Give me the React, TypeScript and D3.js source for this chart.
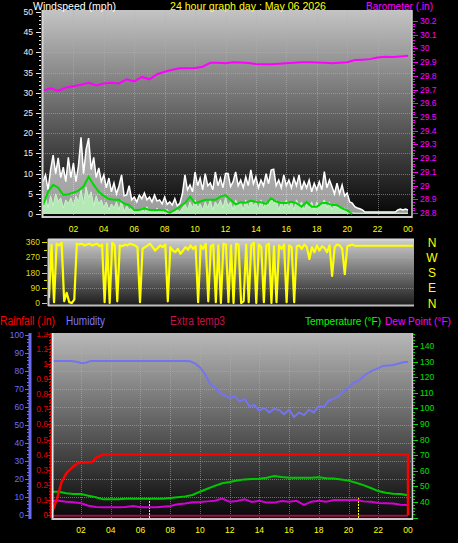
import React, { useEffect, useRef } from 'react';
import * as d3 from 'd3';

const W = 458;
const H = 543;
const FONT = "'Liberation Sans', Arial, sans-serif";

// ---------- axis ticks / labels ----------
const hourTicks = [2, 4, 6, 8, 10, 12, 14, 16, 18, 20, 22, 24];
const hourTickLabels = ['02', '04', '06', '08', '10', '12', '14', '16', '18', '20', '22', '00'];
const windTicks = [0, 5, 10, 15, 20, 25, 30, 35, 40, 45, 50];
const baroTicks = [28.8, 28.9, 29.0, 29.1, 29.2, 29.3, 29.4, 29.5, 29.6, 29.7, 29.8, 29.9, 30.0, 30.1, 30.2];
const baroTickLabels = ['28.8', '28.9', '29', '29.1', '29.2', '29.3', '29.4', '29.5', '29.6', '29.7', '29.8', '29.9', '30', '30.1', '30.2'];
const dirTicks = [0, 90, 180, 270, 360];
const dirTickLabels = ['0', '90', '180', '270', '360'];
const compassLabels = ['N', 'E', 'S', 'W', 'N'];
const humTicks = [0, 10, 20, 30, 40, 50, 60, 70, 80, 90, 100];
const rainTicks = [0, 0.1, 0.2, 0.3, 0.4, 0.5, 0.6, 0.7, 0.8, 0.9, 1.0, 1.1, 1.2];
const rainTickLabels = ['0', '0.1', '0.2', '0.3', '0.4', '0.5', '0.6', '0.7', '0.8', '0.9', '1', '1.1', '1.2'];
const tempTicks = [40, 50, 60, 70, 80, 90, 100, 110, 120, 130, 140];

// ---------- wind (10-minute samples, mph) ----------
const windGust = [
  8, 9.7, 6, 11, 14.6, 10, 13.9, 9, 11.6, 8, 14, 9,
  12.6, 8, 12, 19, 10, 16, 18.8, 11, 14, 9, 11.4, 8,
  9.7, 6.5, 8.9, 5.5, 7.7, 5, 7, 9.7, 4.5, 4.7, 7, 3.5,
  4.2, 3, 4.7, 3.8, 5.2, 3.5, 4.2, 3, 4.7, 3.2, 3.5, 2.5,
  4.2, 2.4, 3, 2.2, 3.8, 2, 2.7, 5, 9.7, 6, 7.2, 5.5,
  10.4, 7, 8.9, 6, 10, 7, 7.7, 6, 10.4, 7, 8.9, 6.5,
  10, 10, 6.8, 8, 10.4, 7, 8.4, 6.5, 9.2, 7, 10.9, 7.5,
  9.2, 6.5, 8.4, 7, 10, 7.5, 10.9, 11.1, 7, 8.4, 6.5, 9.7,
  7, 8.4, 6.5, 8.9, 7, 9.7, 6, 8, 6.5, 8.4, 5.5, 7.6,
  6, 8, 6, 10.5, 6.5, 8.4, 6.8, 5, 7.6, 5, 7.2, 4.5,
  5.2, 3, 2.7, 1.8, 1.5, 1.3, 1.0, 0.5, 0.5, 0.5, 0.5, 0.5,
  0.5, 0.5, 0.5, 0.5, 0.5, 0.5, 0.5, 0.5, 1, 1.2, 1, 1.2,
  1,
];
const windSpeed = [
  2, 4, 1.5, 4.5, 2, 5, 3, 4, 1.5, 3.5, 2.5, 4,
  2, 4.5, 3, 6, 2.5, 6.7, 4, 5.5, 2, 4.5, 2.5, 3.5,
  1.5, 3, 1, 2.5, 1.5, 3, 1, 3.5, 0.5, 2, 1, 1.5,
  0.3, 1.2, 0.5, 1.5, 0.3, 1.8, 0.5, 1.2, 0.3, 1.5, 0.5, 1,
  0.3, 1.2, 0, 0.8, 0.5, 1, 0.5, 1.5, 2.5, 1, 3, 1.5,
  3.5, 1.5, 2.5, 1, 3, 1.5, 3.5, 1, 3, 2, 3.5, 1.5,
  4, 2, 3, 1, 3.5, 2, 3, 1, 3.5, 1.5, 3.5, 2,
  3, 1, 3.5, 1.5, 3, 2, 4, 2.5, 3.5, 1, 3, 1.5,
  3.5, 1.5, 3, 1, 3.5, 2, 3, 1, 2.5, 1.5, 3, 1,
  3, 1.5, 2.5, 3.5, 1.5, 3, 1, 2.5, 1.5, 2, 1, 1.5,
  0.5, 0.5, 0.3, 0.2, 0.2, 0.2, 0.2, 0.2, 0.2, 0.2, 0.2, 0.2,
  0.2, 0.2, 0.2, 0.2, 0.2, 0.2, 0.2, 0.2, 0.2, 0.2, 0.2, 0.2,
  0.2,
];
// 20-minute samples
const windAvg = [
  2.2, 5.5, 7.2, 6.5, 4.7, 4.9, 5.3, 5.8, 6.8, 9.2,
  7.2, 5.5, 4.5, 3.7, 3.5, 3.5, 2.6, 2.2, 1.0, 1.0,
  1.4, 1.0, 1.0, 1.0, 0.9, 0.3, 1.0, 1.8, 2.7, 4.3,
  2.7, 3.1, 3.5, 3.5, 3.5, 4.3, 4.7, 3.5, 2.4, 2.9,
  2.8, 3.3, 3.0, 2.9, 2.5, 3.9, 3.1, 2.7, 2.7, 3.0,
  2.7, 1.8, 3.0, 1.8, 1.8, 2.7, 2.7, 2.2, 2.2, 1.4,
  0.9, 0.0,
];

// ---------- barometer (30-minute samples, inHg) ----------
const barometer = [
  29.692, 29.71, 29.69, 29.715, 29.725, 29.735, 29.75, 29.73, 29.745, 29.75,
  29.745, 29.775, 29.76, 29.792, 29.775, 29.812, 29.83, 29.845, 29.855, 29.855,
  29.858, 29.867, 29.895, 29.896, 29.892, 29.9, 29.898, 29.894, 29.886, 29.885,
  29.884, 29.888, 29.892, 29.895, 29.899, 29.899, 29.898, 29.896, 29.892, 29.896,
  29.9, 29.915, 29.918, 29.922, 29.934, 29.94, 29.938, 29.942, 29.947,
];

// ---------- wind direction (10-minute samples, degrees) ----------
const windDir = [
  30, 345, 5, 350, 340, 355, 10, 60, 5, 0, 20, 350,
  345, 350, 340, 345, 350, 340, 345, 350, 335, 345, 5, 350,
  0, 355, 340, 10, 340, 335, 345, 340, 350, 345, 340, 330,
  5, 320, 330, 340, 350, 330, 310, 325, 340, 330, 345, 10,
  330, 310, 300, 320, 290, 310, 330, 315, 340, 320, 335, 5,
  340, 320, 350, 10, 335, 345, 5, 340, 0, 350, 345, 5,
  340, 0, 350, 345, 0, 10, 345, 5, 340, 355, 0, 345,
  330, 5, 340, 350, 0, 335, 5, 340, 320, 345, 5, 340,
  330, 5, 335, 340, 320, 345, 330, 260, 330, 300, 340, 310,
  335, 325, 300, 340, 160, 330, 345, 340, 320, 170, 335, 340,
  345, 338, 338, 338, 338, 338, 338, 338, 338, 338, 338, 338,
  338, 338, 338, 338, 338, 338, 338, 338, 338, 338, 338, 338,
  338,
];

// ---------- humidity (20-minute samples, %) ----------
const humidity = [
  85.6, 85.6, 85.6, 85.6, 85.6, 85.2, 84.4, 84.6, 85.6, 85.6,
  85.6, 85.6, 85.6, 85.6, 85.6, 85.6, 85.6, 85.6, 85.6, 85.6,
  85.6, 85.6, 85.6, 85.6, 85.6, 85.6, 85.6, 85.6, 85.4, 84.2,
  82, 78.5, 73, 71, 68, 66.5, 65, 66, 63, 64.5,
  60.5, 61, 58, 59.5, 57, 59, 58.3, 56, 58.5, 54.5,
  57, 55.5, 58.5, 57, 60.6, 60, 63.5, 64.5, 66, 69,
  70.5, 73.5, 74.5, 77, 79, 80.5, 81.5, 82.8, 83, 83.3,
  84, 84.8, 85,
];

// ---------- temperature / dew point (30-minute samples, °F) ----------
const temperature = [
  46.6, 46.6, 45.6, 45.1, 45.1, 44, 43, 41.7, 41.7, 41.7,
  42.1, 42.1, 42.1, 42.1, 42.1, 42.1, 42.5, 43, 43.6, 44.5,
  46.6, 48.5, 50.3, 52, 52.8, 53.8, 54.5, 54.7, 54.9, 55.5,
  56.7, 56, 55.6, 55.6, 55.6, 55.6, 55.8, 55.3, 55, 54.4,
  53.7, 52.3, 50.8, 49, 47, 45.9, 45.3, 45.1, 44.3,
];
const dewPoint = [
  40.8, 40.8, 40.2, 39.8, 39.2, 37.6, 36.8, 36.6, 36.6, 36.6,
  36.8, 37.4, 36.6, 36.6, 36.6, 37, 37.4, 38.5, 39, 39.8,
  40, 40.4, 40.8, 42.2, 40.2, 40.6, 41.8, 40, 40.8, 39.6,
  39.6, 40.6, 40.2, 40.8, 38.2, 40.2, 40.8, 40.2, 41.3, 41.3,
  41.3, 41.5, 40.4, 40.2, 39.4, 39.2, 39.0, 38.2, 38,
];
const extraTemp3Hours = [0, 24];
const extraTemp3 = [31.2, 31.2];

// ---------- rainfall (inches, cumulative) ----------
const rainHours = [0, 0.05, 0.36, 0.7, 1.04, 1.46, 1.8, 2.72, 3.05, 3.48, 24, 24];
const rainfall = [0, 0.02, 0.1, 0.22, 0.28, 0.32, 0.345, 0.35, 0.38, 0.4, 0.4, 0];

// sunrise / sunset (hours)
const sunEvents = [6.57, 20.63];

type Sel = d3.Selection<SVGGElement, unknown, null, undefined>;

function label(g: Sel, x: number, y: number, s: string, color: string, size: number, anchor = 'start', len?: number) {
  const t = g.append('text')
    .attr('x', x).attr('y', y)
    .attr('fill', color)
    .attr('font-size', size)
    .attr('font-family', FONT)
    .attr('text-anchor', anchor)
    .text(s);
  if (len) t.attr('textLength', len).attr('lengthAdjust', 'spacingAndGlyphs');
  return t;
}

export default function App() {
  const ref = useRef<SVGSVGElement>(null);

  useEffect(() => {
    const svg = d3.select(ref.current as SVGSVGElement);
    svg.selectAll('*').remove();
    const defs = svg.append('defs');
    const mkGrad = (id: string, y1: number, y2: number, c1: string, c2: string) => {
      const g = defs.append('linearGradient').attr('id', id)
        .attr('gradientUnits', 'userSpaceOnUse')
        .attr('x1', 0).attr('x2', 0).attr('y1', y1).attr('y2', y2);
      g.append('stop').attr('offset', 0).attr('stop-color', c1);
      g.append('stop').attr('offset', 1).attr('stop-color', c2);
    };
    mkGrad('gTop', 10, 217, '#c4c4c4', '#040404');
    mkGrad('gMid', 239, 306, '#cfcfcf', '#1a1a1a');
    mkGrad('gBot', 333, 519, '#b8b8b8', '#060606');
    defs.append('clipPath').attr('id', 'rainClip')
      .append('rect').attr('x', 0).attr('y', 332).attr('width', 52).attr('height', 200);
    defs.append('clipPath').attr('id', 'topClip')
      .append('rect').attr('x', 43).attr('y', 10).attr('width', 369).attr('height', 207);
    defs.append('clipPath').attr('id', 'midClip')
      .append('rect').attr('x', 48).attr('y', 239).attr('width', 366).attr('height', 67);
    defs.append('clipPath').attr('id', 'botClip')
      .append('rect').attr('x', 52).attr('y', 333).attr('width', 361).attr('height', 186);

    const root = svg.append('g') as unknown as Sel;
    root.append('rect').attr('width', W).attr('height', H).attr('fill', '#000');

    const gridStyle = (sel: any) => sel.attr('stroke', '#b0b0b0').attr('stroke-opacity', 0.55)
      .attr('stroke-dasharray', '1 1').attr('stroke-width', 1);

    // ================= TOP PANEL =================
    const TL = 43, TR = 412, TT = 10, TB = 217;
    const xTop = d3.scaleLinear().domain([0, 24]).range([43, 408]);
    const yWind = d3.scaleLinear().domain([0, 50]).range([214, 12]);
    const yBaro = d3.scaleLinear().domain([28.8, 30.2]).range([213, 21]);

    root.append('rect').attr('x', TL).attr('y', TT).attr('width', TR - TL).attr('height', TB - TT).attr('fill', 'url(#gTop)');
    const gTopGrid = root.append('g');
    windTicks.filter(v => v > 0 && v < 50).forEach(v => {
      gTopGrid.append('line').attr('x1', TL).attr('x2', TR).attr('y1', Math.round(yWind(v)) + 0.5).attr('y2', Math.round(yWind(v)) + 0.5).call(gridStyle);
    });
    hourTicks.filter(h => h < 24).forEach(h => {
      gTopGrid.append('line').attr('x1', Math.round(xTop(h)) + 0.5).attr('x2', Math.round(xTop(h)) + 0.5).attr('y1', TT).attr('y2', TB).call(gridStyle);
    });

    const topData = root.append('g').attr('clip-path', 'url(#topClip)');
    const tWind = (i: number) => xTop(i / 6);
    topData.append('path').datum(windGust)
      .attr('d', d3.area<number>().x((_, i) => tWind(i)).y0(yWind(0)).y1(d => yWind(d)))
      .attr('fill', '#ffffff').attr('fill-opacity', 0.6);
    topData.append('path').datum(windGust)
      .attr('d', d3.line<number>().x((_, i) => tWind(i)).y(d => yWind(d)))
      .attr('fill', 'none').attr('stroke', '#ffffff').attr('stroke-width', 1.5);
    topData.append('path').datum(windSpeed)
      .attr('d', d3.area<number>().x((_, i) => tWind(i)).y0(yWind(0)).y1(d => yWind(d)))
      .attr('fill', '#b4e8b4');
    topData.append('path').datum(windSpeed)
      .attr('d', d3.line<number>().x((_, i) => tWind(i)).y(d => yWind(d)))
      .attr('fill', 'none').attr('stroke', '#c8f4c8').attr('stroke-width', 1);
    topData.append('path').datum(windAvg)
      .attr('d', d3.line<number>().x((_, i) => xTop(i / 3)).y(d => yWind(d)))
      .attr('fill', 'none').attr('stroke', '#00d800').attr('stroke-width', 2);
    topData.append('path').datum(barometer)
      .attr('d', d3.line<number>().x((_, i) => xTop(i / 2)).y(d => yBaro(d)))
      .attr('fill', 'none').attr('stroke', '#ff00ff').attr('stroke-width', 2);

    // borders
    root.append('line').attr('x1', TL - 0.5).attr('x2', TL - 0.5).attr('y1', TT).attr('y2', TB + 1).attr('stroke', '#d4d4d4').attr('stroke-width', 2);
    root.append('line').attr('x1', TL).attr('x2', TR).attr('y1', TB).attr('y2', TB).attr('stroke', '#c8c8c8').attr('stroke-width', 2);
    root.append('line').attr('x1', TR).attr('x2', TR).attr('y1', TT).attr('y2', TB + 1).attr('stroke', '#d0d0d0').attr('stroke-width', 1.5);

    // left wind axis
    const gWA = root.append('g');
    d3.range(0, 51, 1).forEach(v => {
      const y = Math.round(yWind(v)) + 0.5;
      const major = v % 5 === 0;
      gWA.append('line').attr('x1', major ? 36 : 39).attr('x2', 41).attr('y1', y).attr('y2', y)
        .attr('stroke', '#e8e8e8').attr('stroke-width', 1);
    });
    windTicks.forEach(v => label(gWA, 33, yWind(v) + 3, String(v), '#f0f0f0', 8.5, 'end'));

    // right baro axis
    const gBA = root.append('g');
    d3.range(0, 71).forEach(k => {
      const v = 28.8 + k * 0.02;
      const y = Math.round(yBaro(v)) + 0.5;
      const major = k % 5 === 0;
      gBA.append('line').attr('x1', 413).attr('x2', major ? 418 : 415).attr('y1', y).attr('y2', y)
        .attr('stroke', '#ff00ff').attr('stroke-width', 1);
    });
    baroTicks.forEach((v, i) => label(gBA, 420, yBaro(v) + 3, baroTickLabels[i], '#ff00ff', 8.5, 'start'));

    // x labels top
    hourTicks.forEach((h, i) => label(root, xTop(h), 232, hourTickLabels[i], '#ffff00', 8.5, 'middle'));

    // headers top
    label(root, 33, 10, 'Windspeed (mph)', '#ffffff', 11, 'start', 83);
    label(root, 170, 10, '24 hour graph day : May 06 2026', '#ffff00', 11, 'start', 156);
    label(root, 366, 10, 'Barometer (.in)', '#ff00ff', 11, 'start', 67);

    // ================= MIDDLE PANEL =================
    const ML = 48, MR = 414, MT = 239, MB = 306;
    const xMid = d3.scaleLinear().domain([0, 24]).range([49, 413]);
    const yDir = d3.scaleLinear().domain([0, 360]).range([303, 242]);
    root.append('rect').attr('x', ML).attr('y', MT).attr('width', MR - ML).attr('height', MB - MT).attr('fill', 'url(#gMid)');
    [90, 180, 270].forEach(v => {
      root.append('line').attr('x1', ML).attr('x2', MR).attr('y1', Math.round(yDir(v)) + 0.5).attr('y2', Math.round(yDir(v)) + 0.5).call(gridStyle);
    });
    root.append('g').attr('clip-path', 'url(#midClip)')
      .append('path').datum(windDir)
      .attr('d', d3.line<number>().x((_, i) => xMid(i / 6)).y(d => yDir(d)))
      .attr('fill', 'none').attr('stroke', '#ffff00').attr('stroke-width', 2.2).attr('stroke-linejoin', 'round');
    root.append('line').attr('x1', ML).attr('x2', MR).attr('y1', MT + 0.5).attr('y2', MT + 0.5).attr('stroke', '#d8d8d8').attr('stroke-width', 2);
    root.append('line').attr('x1', ML).attr('x2', MR).attr('y1', MB - 0.5).attr('y2', MB - 0.5).attr('stroke', '#bdbdbd').attr('stroke-width', 2);
    root.append('line').attr('x1', ML + 0.5).attr('x2', ML + 0.5).attr('y1', MT).attr('y2', MB).attr('stroke', '#d0d0d0').attr('stroke-width', 2);
    const gDA = root.append('g');
    d3.range(0, 361, 45).forEach(v => {
      const y = Math.round(yDir(v)) + 0.5;
      const major = v % 90 === 0;
      gDA.append('line').attr('x1', major ? 42 : 44).attr('x2', 47).attr('y1', y).attr('y2', y)
        .attr('stroke', '#dede00').attr('stroke-width', 1);
    });
    dirTicks.forEach((v, i) => label(gDA, 40, yDir(v) + 3, dirTickLabels[i], '#dede00', 8.5, 'end'));
    dirTicks.forEach((v, i) => label(gDA, 432, yDir(v) + 4.5, compassLabels[i], '#ffff00', 12, 'middle'));

    // ================= BOTTOM PANEL =================
    const BL = 52, BR = 413, BT = 333, BB = 519;
    const xBot = d3.scaleLinear().domain([0, 24]).range([51.3, 408]);
    const yHum = d3.scaleLinear().domain([0, 100]).range([515, 335]);
    const yRain = d3.scaleLinear().domain([0, 1.2]).range([515, 333.8]);
    const yTemp = d3.scaleLinear().domain([40, 140]).range([502, 346]);

    root.append('rect').attr('x', BL).attr('y', BT).attr('width', BR - BL).attr('height', BB - BT).attr('fill', 'url(#gBot)');
    humTicks.filter(v => v > 0 && v < 100).forEach(v => {
      root.append('line').attr('x1', BL).attr('x2', BR).attr('y1', Math.round(yHum(v)) + 0.5).attr('y2', Math.round(yHum(v)) + 0.5).call(gridStyle);
    });
    hourTicks.filter(h => h < 24).forEach(h => {
      root.append('line').attr('x1', Math.round(xBot(h)) + 0.5).attr('x2', Math.round(xBot(h)) + 0.5).attr('y1', BT).attr('y2', BB).call(gridStyle);
    });

    const botData = root.append('g').attr('clip-path', 'url(#botClip)');
    botData.append('path').datum(extraTemp3)
      .attr('d', d3.line<number>().x((_, i) => xBot(extraTemp3Hours[i])).y(d => yTemp(d)))
      .attr('fill', 'none').attr('stroke', '#a0104a').attr('stroke-width', 2);
    sunEvents.forEach(h => {
      botData.append('line').attr('x1', Math.round(xBot(h)) + 0.5).attr('x2', Math.round(xBot(h)) + 0.5)
        .attr('y1', 498).attr('y2', BB).attr('stroke', '#ffff00').attr('stroke-width', 1).attr('stroke-dasharray', '2 1');
    });
    botData.append('path').datum(humidity)
      .attr('d', d3.line<number>().x((_, i) => xBot(i / 3)).y(d => yHum(d)))
      .attr('fill', 'none').attr('stroke', '#7474f0').attr('stroke-width', 2);
    botData.append('path').datum(dewPoint)
      .attr('d', d3.line<number>().x((_, i) => xBot(i / 2)).y(d => yTemp(d)))
      .attr('fill', 'none').attr('stroke', '#d400d4').attr('stroke-width', 2);
    botData.append('path').datum(temperature)
      .attr('d', d3.line<number>().x((_, i) => xBot(i / 2)).y(d => yTemp(d)))
      .attr('fill', 'none').attr('stroke', '#00c800').attr('stroke-width', 2);
    botData.append('path').datum(rainfall)
      .attr('d', d3.line<number>().x((_, i) => xBot(rainHours[i])).y(d => yRain(d)))
      .attr('fill', 'none').attr('stroke', '#ff0000').attr('stroke-width', 2.5);

    // borders
    root.append('line').attr('x1', BL + 0.5).attr('x2', BL + 0.5).attr('y1', BT).attr('y2', BB + 1).attr('stroke', '#ececec').attr('stroke-width', 2);
    root.append('line').attr('x1', BL).attr('x2', BR).attr('y1', BB).attr('y2', BB).attr('stroke', '#c8c8c8').attr('stroke-width', 2);
    root.append('line').attr('x1', BR - 0.5).attr('x2', BR - 0.5).attr('y1', BT).attr('y2', BB + 1).attr('stroke', '#d0d0d0').attr('stroke-width', 1.5);

    // humidity axis
    const gHA = root.append('g');
    gHA.append('line').attr('x1', 30).attr('x2', 30).attr('y1', BT).attr('y2', BB).attr('stroke', '#6a6af0').attr('stroke-width', 3);
    d3.range(0, 101, 2).forEach(v => {
      const y = Math.round(yHum(v)) + 0.5;
      const major = v % 10 === 0;
      gHA.append('line').attr('x1', major ? 25 : 27).attr('x2', 29).attr('y1', y).attr('y2', y).attr('stroke', '#6a6af0').attr('stroke-width', 1);
    });
    humTicks.forEach(v => label(gHA, 24, yHum(v) + 3, String(v), '#6c6cff', 8.5, 'end'));

    // rain axis
    const gRA = root.append('g');
    gRA.append('line').attr('x1', 50.5).attr('x2', 50.5).attr('y1', BT).attr('y2', BB).attr('stroke', '#e00000').attr('stroke-width', 1.5).attr('stroke-dasharray', '2 1');
    d3.range(0, 61).forEach(k => {
      const v = k * 0.02;
      const y = Math.round(yRain(v)) + 0.5;
      const major = k % 5 === 0;
      gRA.append('line').attr('x1', major ? 47 : 49).attr('x2', 51).attr('y1', y).attr('y2', y).attr('stroke', '#e00000').attr('stroke-width', 1);
    });
    const gRL = gRA.append('g').attr('clip-path', 'url(#rainClip)');
    rainTicks.forEach((v, i) => label(gRL as unknown as Sel, 48, yRain(v) + 3, rainTickLabels[i], '#e00000', 8.5, 'end'));

    // temperature axis
    const gTA = root.append('g');
    d3.range(30, 150, 2).forEach(v => {
      const y = Math.round(yTemp(v)) + 0.5;
      if (y < BT || y > BB) return;
      const major = v % 10 === 0;
      gTA.append('line').attr('x1', 413).attr('x2', major ? 418 : 415).attr('y1', y).attr('y2', y).attr('stroke', '#00e000').attr('stroke-width', 1);
    });
    tempTicks.forEach(v => label(gTA, 420, yTemp(v) + 3, String(v), '#00e000', 8.5, 'start'));

    // x labels bottom
    hourTicks.forEach((h, i) => label(root, xBot(h), 533, hourTickLabels[i], '#ffff00', 8.5, 'middle'));

    // bottom headers
    label(root, 0, 325, 'Rainfall (.in)', '#ff0000', 12, 'start', 55);
    label(root, 66, 325, 'Humidity', '#7878ff', 12, 'start', 39);
    label(root, 170, 325, 'Extra temp3', '#c8104a', 12, 'start', 55);
    label(root, 305, 325, 'Temperature (°F)', '#00ff00', 11, 'start', 76);
    label(root, 385, 325, 'Dew Point (°F)', '#ff00ff', 11, 'start', 66);
  }, []);

  return (
    <svg
      ref={ref}
      width={W}
      height={H}
      style={{ position: 'absolute', left: 0, top: 0, display: 'block', background: '#000' }}
    />
  );
}
